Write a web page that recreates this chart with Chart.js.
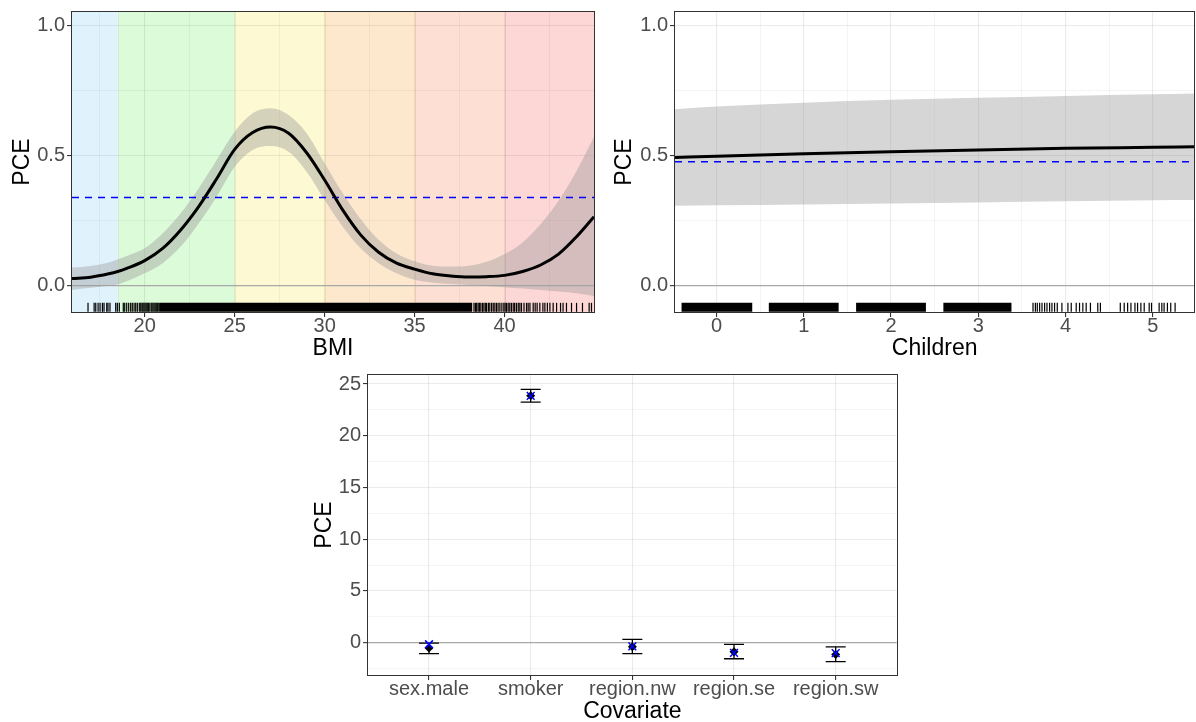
<!DOCTYPE html>
<html>
<head>
<meta charset="utf-8">
<script src="https://cdn.jsdelivr.net/npm/chart.js@4.4.1/dist/chart.umd.min.js"></script>
<style>
  html, body { margin: 0; padding: 0; background: #fff; overflow: hidden; }
  body { width: 1196px; height: 722px; position: relative; }
  canvas { position: absolute; }
</style>
</head>
<body>
<canvas id="bmi" width="600" height="362" style="left:0;top:0"></canvas>
<canvas id="children" width="600" height="362" style="left:600px;top:0"></canvas>
<canvas id="covariate" width="608" height="362" style="left:300px;top:360px"></canvas>
<script>
// ---- BMI panel data ----
const bmiX     = [15.96, 17, 18, 18.5, 19, 20, 21, 22, 23, 24, 25, 26, 27, 28, 29, 30, 31, 32, 33, 34, 35, 36, 37, 38, 39, 40, 41, 42, 43, 44, 44.97];
const bmiFit   = [0.026, 0.031, 0.044, 0.053, 0.065, 0.095, 0.142, 0.213, 0.303, 0.41, 0.523, 0.588, 0.609, 0.585, 0.51, 0.405, 0.29, 0.194, 0.127, 0.085, 0.062, 0.044, 0.036, 0.032, 0.033, 0.038, 0.053, 0.078, 0.12, 0.187, 0.264];
const bmiLower = [-0.018, -0.01, -0.002, 0.003, 0.015, 0.046, 0.085, 0.149, 0.238, 0.341, 0.456, 0.521, 0.536, 0.514, 0.437, 0.328, 0.226, 0.142, 0.085, 0.046, 0.021, 0.01, 0.005, 0.001, -0.003, -0.008, -0.013, -0.018, -0.024, -0.031, -0.041];
const bmiUpper = [0.068, 0.074, 0.088, 0.1, 0.113, 0.142, 0.2, 0.277, 0.373, 0.482, 0.591, 0.662, 0.681, 0.655, 0.585, 0.47, 0.355, 0.255, 0.175, 0.122, 0.092, 0.075, 0.072, 0.075, 0.09, 0.12, 0.165, 0.235, 0.325, 0.44, 0.572];
const bmiMean  = 0.338;
const bmiBreaks = [18.5, 25, 30, 35, 40];
const bmiMajor = [20, 25, 30, 35, 40];
const bmiMinor = [17.5, 22.5, 27.5, 32.5, 37.5, 42.5];
// rug: solid runs and single ticks
const bmiRugRuns = [[20.8, 38.2]];
const bmiRugTicks = [16.85, 17.19, 17.28, 17.41, 17.52, 17.65, 17.74, 17.89, 17.96, 18.07, 18.39, 18.48, 18.59, 18.81, 18.89, 19.0, 19.11, 19.22, 19.31, 19.41, 19.5, 19.59, 19.7, 19.78,
  19.85, 19.9, 19.96, 20.02, 20.08, 20.14, 20.2, 20.25, 20.35, 20.4, 20.46, 20.52, 20.58, 20.64, 20.7, 20.75,
  38.3, 38.38, 38.45, 38.53, 38.6, 38.68, 38.77, 38.85, 38.93, 39.0, 39.1, 39.18, 39.28, 39.37, 39.46, 39.55, 39.64, 39.74, 39.85, 39.96, 40.03, 40.11, 40.2, 40.29, 40.38, 40.48, 40.56, 40.66, 40.76, 40.85, 40.94, 41.08, 41.22, 41.31, 41.41, 41.59, 41.7, 41.81, 41.96, 42.13, 42.24, 42.38, 42.52, 42.7, 42.89, 43.11, 43.25, 43.44, 43.72, 44.0, 44.33, 44.7, 44.83];

// ---- Children panel data ----
const childX     = [-0.475, 0, 1, 2, 3, 4, 5, 5.475];
const childFit   = [0.492, 0.497, 0.506, 0.514, 0.521, 0.527, 0.531, 0.533];
const childLower = [0.306, 0.308, 0.311, 0.315, 0.319, 0.323, 0.327, 0.328];
const childUpper = [0.678, 0.688, 0.703, 0.714, 0.722, 0.729, 0.735, 0.738];
const childMean  = 0.475;
const childMajor = [0, 1, 2, 3, 4, 5];
const childMinor = [0.5, 1.5, 2.5, 3.5, 4.5];
const childRugRuns = [[-0.40, 0.41], [0.60, 1.40], [1.60, 2.40], [2.60, 3.38]];
const childRugTicks = [3.627, 3.654, 3.676, 3.703, 3.73, 3.76, 3.787, 3.817, 3.844, 3.874, 3.905, 3.958, 4.027, 4.065, 4.122, 4.16, 4.198, 4.236, 4.285, 4.369, 4.399,
  4.627, 4.672, 4.711, 4.749, 4.795, 4.825, 4.863, 4.901, 4.958, 4.985, 5.072, 5.103, 5.129, 5.167, 5.205, 5.255];

// ---- Covariate panel data ----
const covariates = ["sex.male", "smoker", "region.nw", "region.se", "region.sw"];
const covEst   = [-0.5, 23.86, -0.39, -0.87, -1.15];
const covLow   = [-1.06, 23.25, -1.06, -1.55, -1.82];
const covHigh  = [-0.04, 24.48, 0.33, -0.16, -0.4];
const covCheck = [-0.15, 23.86, -0.35, -0.98, -1.0];
const covMajor = [0, 5, 10, 15, 20, 25];
const covMinor = [-2.5, 2.5, 7.5, 12.5, 17.5, 22.5];

// ---- styles ----
const bandFills = ["#e0f3fd", "#dcfbd9", "#fdf9d2", "#fde8ce", "#fde0d3", "#fdd6d6"];
const bandLines = ["#cfe8e6", "#e9efb9", "#f6dca8", "#f6cdb0", "#f1bcb8"];
const RUG_Y = -0.085;

Chart.defaults.font.family = "'Liberation Sans', Arial, sans-serif";
Chart.defaults.color = '#4d4d4d';

const framePlugin = {
  id: 'frame',
  afterDraw(chart) {
    const a = chart.chartArea, ctx = chart.ctx;
    ctx.save();
    ctx.strokeStyle = '#333';
    ctx.lineWidth = 1;
    ctx.strokeRect(Math.round(a.left) - 0.5, Math.round(a.top) - 0.5, Math.round(a.right - a.left) + 1, Math.round(a.bottom - a.top) + 1);
    ctx.restore();
  }
};

const bandPlugin = {
  id: 'bands',
  beforeDraw(chart) {
    if (chart.canvas.id !== 'bmi') return;
    const ctx = chart.ctx, a = chart.chartArea, x = chart.scales.x;
    const edges = [a.left].concat(bmiBreaks.map(v => x.getPixelForValue(v)), [a.right]);
    ctx.save();
    for (let i = 0; i < bandFills.length; i++) {
      ctx.fillStyle = bandFills[i];
      ctx.fillRect(edges[i], a.top, edges[i + 1] - edges[i], a.bottom - a.top);
    }
    ctx.lineWidth = 1;
    bmiBreaks.forEach((v, i) => {
      const px = Math.round(x.getPixelForValue(v)) + 0.5;
      ctx.strokeStyle = bandLines[i];
      ctx.beginPath(); ctx.moveTo(px, a.top); ctx.lineTo(px, a.bottom); ctx.stroke();
    });
    ctx.restore();
  }
};

function isIn(list, v) { return list.some(m => Math.abs(m - v) < 1e-9); }

function grid(major, zero) {
  return {
    color: c => (zero && c.tick && c.tick.value === 0) ? '#a8a8a8' : 'rgba(0,0,0,0.08)',
    lineWidth: c => (zero && c.tick && c.tick.value === 0) ? 1.3 : (c.tick && isIn(major, c.tick.value) ? 1.1 : 0.6),
    tickColor: c => (c.tick && isIn(major, c.tick.value)) ? '#333' : 'rgba(0,0,0,0)',
    tickLength: 5,
    tickWidth: 1.1
  };
}

function axisX(min, max, major, minor, title, height, labelFn, titlePad) {
  return {
    type: 'linear', min: min, max: max,
    afterBuildTicks: s => { s.ticks = major.concat(minor).sort((a, b) => a - b).map(v => ({value: v})); },
    afterFit: s => { s.height = height; s.paddingLeft = 0; s.paddingRight = 0; },
    grid: grid(major, false),
    border: {display: false},
    ticks: {
      autoSkip: false, maxRotation: 0, padding: -1,
      font: {size: 20, lineHeight: 1}, color: '#4d4d4d',
      callback: v => isIn(major, v) ? labelFn(v) : ''
    },
    title: {display: true, text: title, color: '#000', font: {size: 23, lineHeight: 1}, padding: {top: 0, bottom: titlePad}}
  };
}

function axisY(min, max, major, minor, width, labelFn, titlePad) {
  return {
    min: min, max: max,
    afterBuildTicks: s => { s.ticks = major.concat(minor).sort((a, b) => a - b).map(v => ({value: v})); },
    afterFit: s => { s.width = width; s.paddingTop = 0; s.paddingBottom = 0; },
    grid: grid(major, true),
    border: {display: false},
    ticks: {
      autoSkip: false, padding: 2,
      font: {size: 20, lineHeight: 1}, color: '#4d4d4d',
      callback: v => isIn(major, v) ? labelFn(v) : ''
    },
    title: {display: true, text: 'PCE', color: '#000', font: {size: 23, lineHeight: 1}, padding: {top: titlePad, bottom: 0}}
  };
}

function pts(xs, ys) { return xs.map((x, i) => ({x: x, y: ys[i]})); }
function runs(list) {
  const out = [];
  list.forEach(r => { out.push({x: r[0], y: RUG_Y}, {x: r[1], y: RUG_Y}, {x: r[1], y: null}); });
  return out;
}

function smoothPanel(id, xs, fit, lower, upper, mean, rugRuns, rugTicks, xAxis, yPad, yWidth, rightPad) {
  new Chart(document.getElementById(id), {
    type: 'line',
    data: {
      datasets: [
        {data: pts(xs, fit), borderColor: '#000', borderWidth: 3, pointRadius: 0, cubicInterpolationMode: 'monotone', fill: false},
        {data: [{x: xAxis.min, y: mean}, {x: xAxis.max, y: mean}], borderColor: '#0000ff', borderWidth: 1.5, borderDash: [7, 6], pointRadius: 0, fill: false},
        {data: pts(xs, upper), borderWidth: 0, borderColor: 'rgba(0,0,0,0)', pointRadius: 0, cubicInterpolationMode: 'monotone', fill: '+1', backgroundColor: 'rgba(153,153,153,0.4)'},
        {data: pts(xs, lower), borderWidth: 0, borderColor: 'rgba(0,0,0,0)', pointRadius: 0, cubicInterpolationMode: 'monotone', fill: false},
        {data: runs(rugRuns), borderColor: '#000', borderWidth: 9, borderCapStyle: 'butt', pointRadius: 0, spanGaps: false, fill: false},
        {data: rugTicks.map(v => ({x: v, y: RUG_Y})), showLine: false, pointStyle: 'line', rotation: 90, pointRadius: 4.5, borderColor: '#000', borderWidth: 1.2, fill: false}
      ]
    },
    options: {
      responsive: false, animation: false, devicePixelRatio: 1,
      layout: {padding: {top: 12, right: rightPad, left: 0, bottom: 0}},
      plugins: {legend: {display: false}, tooltip: {enabled: false}},
      scales: {
        x: xAxis,
        y: axisY(-0.103, 1.052, [0, 0.5, 1], [0.25, 0.75], yWidth, v => v.toFixed(1), yPad)
      }
    },
    plugins: [bandPlugin, framePlugin]
  });
}

// BMI
smoothPanel('bmi', bmiX, bmiFit, bmiLower, bmiUpper, bmiMean, bmiRugRuns, bmiRugTicks,
  axisX(15.96, 44.97, bmiMajor, bmiMinor, 'BMI', 50, v => String(v), 2), 10.7, 72, 6);

// Children
smoothPanel('children', childX, childFit, childLower, childUpper, childMean, childRugRuns, childRugTicks,
  axisX(-0.475, 5.475, childMajor, childMinor, 'Children', 50, v => String(v), 2), 12.7, 75, 3);

// Covariate
const barSegs = [];
covariates.forEach((c, i) => { barSegs.push({x: i, y: covLow[i]}, {x: i, y: covHigh[i]}, {x: i, y: null}); });

new Chart(document.getElementById('covariate'), {
  type: 'line',
  data: {
    datasets: [
      {data: covariates.map((c, i) => ({x: i, y: covCheck[i]})), showLine: false, pointStyle: 'crossRot', pointRadius: 5.5, borderColor: '#0000ff', borderWidth: 1.5},
      {data: covariates.map((c, i) => ({x: i, y: covEst[i]})), showLine: false, pointStyle: 'rectRot', pointRadius: 4.5, backgroundColor: '#000', borderColor: '#000', borderWidth: 0},
      {data: covariates.map((c, i) => ({x: i, y: covLow[i]})).concat(covariates.map((c, i) => ({x: i, y: covHigh[i]}))), showLine: false, pointStyle: 'line', pointRadius: 10, borderColor: '#000', borderWidth: 1.3},
      {data: barSegs, borderColor: '#000', borderWidth: 1.3, pointRadius: 0, spanGaps: false, fill: false}
    ]
  },
  options: {
    responsive: false, animation: false, devicePixelRatio: 1,
    layout: {padding: {top: 15, right: 4, left: 0, bottom: 0}},
    plugins: {legend: {display: false}, tooltip: {enabled: false}},
    scales: {
      x: axisX(-0.6, 4.6, [0, 1, 2, 3, 4], [], 'Covariate', 47, v => covariates[v], -1),
      y: axisY(-3.12, 25.87, covMajor, covMinor, 68, v => String(v), 12.7)
    }
  },
  plugins: [framePlugin]
});
</script>
</body>
</html>
